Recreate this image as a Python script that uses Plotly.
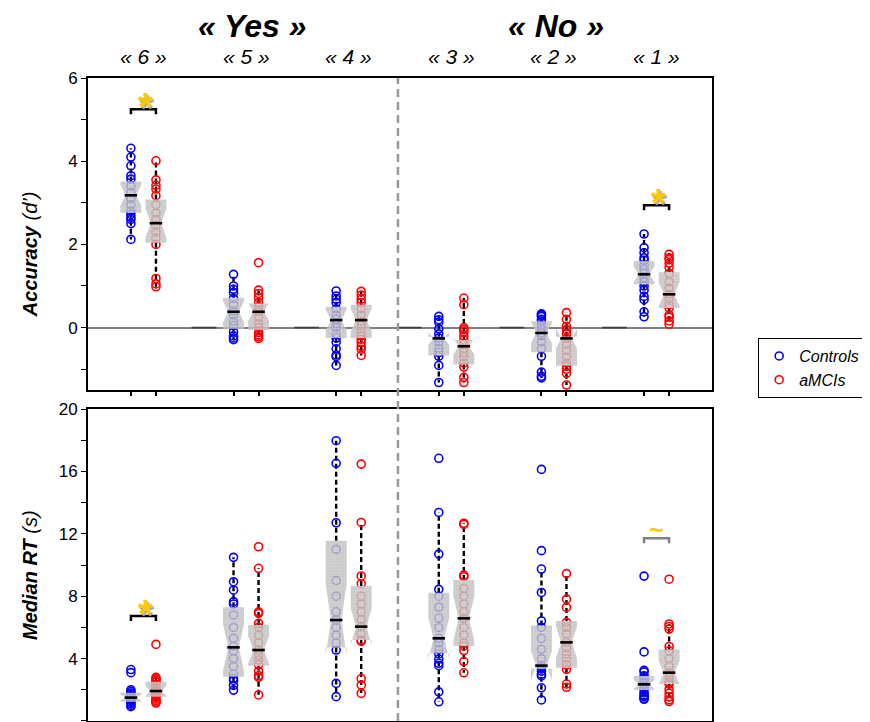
import numpy as np
import plotly.graph_objects as go

FONT = "Liberation Sans, Arial, sans-serif"

# ---------------- data ----------------
categories = ["« 6 »", "« 5 »", "« 4 »", "« 3 »", "« 2 »", "« 1 »"]
answer_groups = ["« Yes »", "« No »"]
series_names = ["Controls", "aMCIs"]

# box statistics per category: (whisker_low, q1, median, q3, whisker_high)
acc_ctrl_stats = [(2.12, 2.76, 3.18, 3.51, 4.31), (-0.29, -0.03, 0.38, 0.715, 1.28),
                  (-0.91, -0.25, 0.18, 0.50, 0.88), (-1.32, -0.67, -0.26, -0.22, 0.27),
                  (-1.21, -0.59, -0.13, 0.15, 0.33), (0.26, 1.04, 1.28, 1.60, 2.25)]
acc_amci_stats = [(0.98, 2.04, 2.51, 3.08, 4.01), (-0.26, -0.06, 0.38, 0.58, 0.90),
                  (-0.67, -0.25, 0.18, 0.55, 0.87), (-1.32, -0.89, -0.45, -0.30, 0.71),
                  (-1.38, -0.92, -0.26, -0.22, 0.36), (0.08, 0.47, 0.80, 1.33, 1.76)]
rt_ctrl_stats = [(0.92, 1.24, 1.50, 1.81, 2.0), (1.98, 2.84, 4.72, 7.29, 10.49),
                 (1.56, 4.72, 6.47, 11.56, 17.97), (1.23, 4.35, 5.30, 8.22, 13.37),
                 (1.35, 3.35, 3.55, 6.13, 9.74), (1.39, 1.99, 2.35, 2.88, 3.25)]
rt_amci_stats = [(1.15, 1.56, 1.92, 2.52, 2.8), (1.67, 3.55, 4.55, 6.15, 9.79),
                 (1.77, 5.19, 6.05, 8.65, 12.73), (3.09, 4.81, 6.58, 9.04, 12.68),
                 (2.16, 3.42, 5.04, 6.41, 9.45), (1.25, 2.37, 3.10, 4.59, 6.22)]

# individual participants
acc_ctrl_pts = [
    [4.31, 4.10, 3.89, 3.65, 3.57, 3.40, 3.25, 3.10, 2.95, 2.80, 2.72, 2.65, 2.60, 2.50, 2.12],
    [1.28, 1.0, 0.92, 0.84, 0.7, 0.55, 0.4, 0.3, 0.15, 0.05, -0.1, -0.2, -0.25, -0.29],
    [0.88, 0.76, 0.68, 0.6, 0.45, 0.3, 0.2, 0.1, 0.0, -0.15, -0.25, -0.35, -0.51, -0.66, -0.7, -0.91],
    [0.27, 0.19, 0.13, -0.03, -0.15, -0.25, -0.35, -0.5, -0.6, -0.69, -0.91, -1.32],
    [0.33, 0.30, 0.27, 0.2, 0.15, 0.05, -0.05, -0.13, -0.2, -0.35, -0.5, -0.69, -1.07, -1.17, -1.21],
    [2.25, 1.92, 1.8, 1.68, 1.62, 1.5, 1.4, 1.3, 1.2, 1.1, 1.0, 0.9, 0.75, 0.67, 0.38, 0.26],
]
acc_amci_pts = [
    [4.01, 3.55, 3.42, 3.33, 3.17, 2.95, 2.75, 2.6, 2.45, 2.3, 2.15, 2.0, 1.18, 1.05, 0.98],
    [1.56, 0.90, 0.82, 0.72, 0.6, 0.5, 0.38, 0.25, 0.1, 0.0, -0.12, -0.18, -0.22, -0.26],
    [0.87, 0.78, 0.68, 0.6, 0.45, 0.3, 0.15, 0.05, -0.1, -0.2, -0.28, -0.36, -0.45, -0.52, -0.67],
    [0.71, 0.55, 0.0, -0.05, -0.1, -0.2, -0.3, -0.4, -0.5, -0.6, -0.7, -0.85, -0.95, -1.2, -1.32],
    [0.36, 0.2, 0.03, -0.05, -0.15, -0.26, -0.4, -0.55, -0.7, -0.85, -0.92, -1.0, -1.1, -1.38],
    [1.76, 1.68, 1.64, 1.55, 1.45, 1.3, 1.1, 0.95, 0.8, 0.7, 0.55, 0.47, 0.3, 0.25, 0.16, 0.08],
]
rt_ctrl_pts = [
    [3.3, 3.1, 2.0, 1.9, 1.8, 1.7, 1.6, 1.5, 1.45, 1.4, 1.35, 1.3, 1.2, 1.1, 1.0, 0.92],
    [10.49, 8.93, 8.4, 7.65, 7.5, 6.8, 6.0, 5.3, 4.8, 4.5, 4.0, 3.5, 3.0, 2.74, 2.6, 2.28, 1.98],
    [17.97, 16.52, 12.71, 11.0, 9.0, 8.0, 7.0, 6.47, 6.0, 5.5, 5.0, 4.55, 2.41, 1.56],
    [16.84, 13.37, 10.7, 8.44, 8.0, 7.3, 6.6, 6.0, 5.3, 5.0, 4.6, 4.3, 3.97, 3.7, 3.55, 1.87, 1.23],
    [16.13, 10.92, 9.74, 8.24, 6.41, 6.0, 5.3, 4.6, 4.0, 3.55, 3.4, 3.2, 3.0, 2.9, 2.13, 1.35],
    [9.29, 4.43, 3.25, 3.15, 2.9, 2.7, 2.5, 2.35, 2.2, 2.0, 1.8, 1.65, 1.57, 1.45, 1.39],
]
rt_amci_pts = [
    [4.91, 2.8, 2.7, 2.6, 2.5, 2.3, 2.1, 1.95, 1.9, 1.8, 1.7, 1.6, 1.5, 1.4, 1.3, 1.2, 1.15],
    [11.17, 9.79, 7.0, 6.9, 6.26, 6.0, 5.5, 5.0, 4.55, 4.2, 3.9, 3.6, 3.2, 2.9, 2.8, 1.67],
    [16.47, 12.73, 9.3, 8.8, 8.0, 7.5, 7.0, 6.5, 6.05, 5.6, 5.2, 5.1, 2.72, 2.3, 1.77],
    [12.68, 12.6, 9.35, 9.25, 8.5, 8.0, 7.5, 7.0, 6.58, 6.0, 5.5, 5.0, 4.81, 4.52, 3.81, 3.09],
    [9.45, 7.81, 7.28, 6.32, 6.0, 5.6, 5.04, 4.7, 4.3, 4.0, 3.6, 3.31, 2.37, 2.16],
    [9.09, 6.22, 6.06, 5.89, 4.78, 4.5, 4.0, 3.5, 3.1, 2.8, 2.5, 2.37, 2.03, 1.78, 1.55, 1.36, 1.25],
]

# significance markers: panel, category index, bracket level, symbol
sig_panel = ["acc", "acc", "rt", "rt"]
sig_category = [0, 5, 0, 5]
sig_level = [5.25, 2.94, 6.73, 11.71]
sig_symbol = ["*", "*", "*", "~"]

# ---------------- style / geometry ----------------
BLUE, RED = "#0000FF", "#FF0000"
OFFSET = 0.122          # series offset from category centre
HALF_W = 0.102          # box half width
NOTCH_N = 22
X_RANGE = [0.46, 6.54]
ACC_RANGE = [-1.5, 6]
RT_RANGE = [0, 20]
PANEL_PX = 312
GOLD = "#FFC800"

centers = np.arange(1, len(categories) + 1)

fig = go.Figure()


def add_panel(ctrl_stats, amci_stats, ctrl_pts, amci_pts, xa, ya, showlegend):
    series = [(ctrl_stats, ctrl_pts, BLUE, -OFFSET, series_names[0]),
              (amci_stats, amci_pts, RED, OFFSET, series_names[1])]
    # whiskers
    wx, wy = [], []
    for stats, _, _, off, _ in series:
        for c, (wlo, q1, med, q3, whi) in zip(centers, stats):
            x = c + off
            wx += [x, x, None, x, x, None]
            wy += [q3, whi, None, q1, wlo, None]
    fig.add_trace(go.Scatter(x=wx, y=wy, mode="lines", xaxis=xa, yaxis=ya,
                             line=dict(color="black", width=2.4, dash="5px,3px"),
                             showlegend=False, hoverinfo="skip"))
    # points
    for stats, pts, col, off, name in series:
        px, py = [], []
        for c, vals in zip(centers, pts):
            px += [c + off] * len(vals)
            py += vals
        fig.add_trace(go.Scatter(x=px, y=py, mode="markers", xaxis=xa, yaxis=ya,
                                 name="<i>%s</i>" % name, showlegend=showlegend,
                                 marker=dict(symbol="circle-open", size=8, color=col,
                                             line=dict(width=1.6, color=col))))
    # notched boxes
    for stats, _, _, off, _ in series:
        for c, (wlo, q1, med, q3, whi) in zip(centers, stats):
            x = c + off
            nh = 1.58 * (q3 - q1) / np.sqrt(NOTCH_N)
            nlo, nhi = med - nh, med + nh
            w = HALF_W
            xs = [x - w, x - w, x - w / 2, x - w, x - w, x + w, x + w, x + w / 2, x + w, x + w, x - w]
            ys = [q1, nlo, med, nhi, q3, q3, nhi, med, nlo, q1, q1]
            fig.add_trace(go.Scatter(x=xs, y=ys, mode="lines", fill="toself", xaxis=xa, yaxis=ya,
                                     line=dict(width=0, color="rgba(0,0,0,0)"),
                                     fillcolor="rgba(192,192,192,0.82)",
                                     fillpattern=dict(shape="+", size=3, solidity=0.25,
                                                      fgcolor="rgba(225,225,225,0.9)",
                                                      fillmode="overlay"),
                                     showlegend=False, hoverinfo="skip"))
    # medians
    mx, my = [], []
    for stats, _, _, off, _ in series:
        for c, (wlo, q1, med, q3, whi) in zip(centers, stats):
            x = c + off
            mx += [x - HALF_W / 2 - 0.01, x + HALF_W / 2 + 0.01, None]
            my += [med, med, None]
    fig.add_trace(go.Scatter(x=mx, y=my, mode="lines", xaxis=xa, yaxis=ya,
                             line=dict(color="black", width=2.6),
                             showlegend=False, hoverinfo="skip"))


# dark segments on the zero line (accuracy panel)
zx, zy = [], []
for c in centers[1:]:
    zx += [c - 0.53, c - 0.29, None]
    zy += [0, 0, None]
fig.add_trace(go.Scatter(x=zx, y=zy, mode="lines", xaxis="x", yaxis="y",
                         line=dict(color="#404040", width=1.8),
                         showlegend=False, hoverinfo="skip"))

add_panel(acc_ctrl_stats, acc_amci_stats, acc_ctrl_pts, acc_amci_pts, "x", "y", True)
add_panel(rt_ctrl_stats, rt_amci_stats, rt_ctrl_pts, rt_amci_pts, "x2", "y2", False)

# significance brackets
annotations = []
for pan, ci, lvl, sym in zip(sig_panel, sig_category, sig_level, sig_symbol):
    rng = ACC_RANGE if pan == "acc" else RT_RANGE
    tick = 5 * (rng[1] - rng[0]) / PANEL_PX
    xa, ya = ("x", "y") if pan == "acc" else ("x2", "y2")
    bx, rx = centers[ci] - OFFSET, centers[ci] + OFFSET
    col = "black" if sym == "*" else "#808080"
    fig.add_trace(go.Scatter(x=[bx, bx, rx, rx], y=[lvl - tick, lvl, lvl, lvl - tick],
                             mode="lines", xaxis=xa, yaxis=ya,
                             line=dict(color=col, width=2.5),
                             showlegend=False, hoverinfo="skip"))
    if sym == "*":
        annotations.append(dict(x=centers[ci] + 0.02, y=lvl, xref=xa, yref=ya, text="<b>*</b>",
                                showarrow=False, yshift=2,
                                font=dict(family=FONT, size=38, color=GOLD,
                                          shadow="1.5px 1.5px 0.5px #A8A8A8")))
    else:
        annotations.append(dict(x=centers[ci], y=lvl, xref=xa, yref=ya, text="<b>~</b>",
                                showarrow=False, yshift=8,
                                font=dict(family=FONT, size=25, color=GOLD)))

# headers
TOP_PAPER = 1 + 70 / 643
for gi, name in enumerate(answer_groups):
    annotations.append(dict(x=[2.06, 5.02][gi], y=TOP_PAPER, xref="x", yref="paper",
                            text="<b><i>%s</i></b>" % name, showarrow=False,
                            yanchor="top", yshift=2,
                            font=dict(family=FONT, size=32, color="black")))
for c, name in zip(centers, categories):
    annotations.append(dict(x=c, y=1.034, xref="x", yref="paper", text="<i>%s</i>" % name,
                            showarrow=False, yanchor="middle",
                            font=dict(family=FONT, size=21, color="black")))

# axis titles
annotations.append(dict(x=-0.093, y=0.726, xref="paper", yref="paper", textangle=-90,
                        xanchor="center", yanchor="middle",
                        text="<b><i>Accuracy</i></b> <i>(d’)</i>", showarrow=False,
                        font=dict(family=FONT, size=20, color="black")))
annotations.append(dict(x=-0.093, y=0.227, xref="paper", yref="paper", textangle=-90,
                        xanchor="center", yanchor="middle",
                        text="<b><i>Median RT</i></b> <i>(s)</i>", showarrow=False,
                        font=dict(family=FONT, size=20, color="black")))

tickvals = [c + s for c in centers for s in (-OFFSET, OFFSET)]
xcommon = dict(range=X_RANGE, showline=True, mirror=True, linecolor="black", linewidth=2,
               ticks="outside", ticklen=4, tickwidth=1.5, tickcolor="black",
               tickvals=tickvals, showticklabels=False, showgrid=False, zeroline=False)
ycommon = dict(showline=True, mirror=True, linecolor="black", linewidth=2,
               ticks="outside", ticklen=5, tickwidth=1.2, tickcolor="black",
               showgrid=False, tickfont=dict(family=FONT, size=17, color="black"))

# the page adds an 8px body margin, so the figure is laid out 8px up/left
fig.update_layout(
    width=870, height=722,
    margin=dict(l=80, r=166, t=70, b=9, autoexpand=False),
    paper_bgcolor="white", plot_bgcolor="white",
    font=dict(family=FONT, color="black"),
    xaxis=dict(domain=[0, 1], anchor="y", **xcommon),
    xaxis2=dict(domain=[0, 1], anchor="y2", **xcommon),
    yaxis=dict(domain=[0.5148, 1], anchor="x", range=ACC_RANGE, tick0=0, dtick=2,
               zeroline=True, zerolinecolor="#808080", zerolinewidth=1.5,
               minor=dict(dtick=1, tick0=0, ticks="outside", ticklen=5, tickcolor="black"),
               **ycommon),
    yaxis2=dict(domain=[0, 0.4852], anchor="x2", range=RT_RANGE, tick0=0, dtick=4,
                zeroline=False,
                minor=dict(dtick=2, tick0=0, ticks="outside", ticklen=5, tickcolor="black"),
                **ycommon),
    legend=dict(x=1.074, y=0.5956, xanchor="left", yanchor="top",
                bordercolor="black", borderwidth=1, bgcolor="white",
                font=dict(family=FONT, size=16, color="black"),
                itemsizing="trace", tracegroupgap=2),
    shapes=[dict(type="line", xref="x", yref="paper", x0=3.48, x1=3.48, y0=0, y1=1,
                 line=dict(color="#999999", width=2.5, dash="8px,5px"))],
    annotations=annotations,
)

fig.write_html("out.html")
